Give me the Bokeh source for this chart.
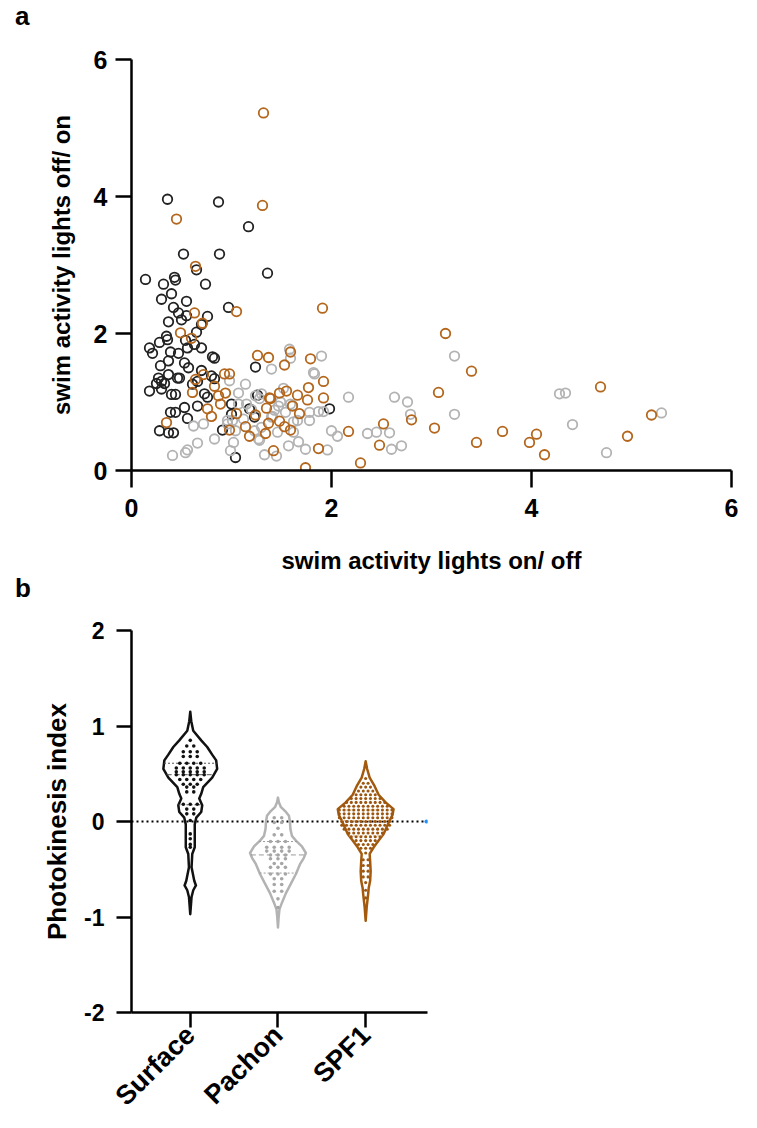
import numpy as np
from bokeh.plotting import figure
from bokeh.layouts import column
from bokeh.models import Range1d, FixedTicker, Div
from bokeh.embed import file_html
from bokeh.resources import INLINE

FONT = "Liberation Sans"

# ---------------- Panel a : swim activity ratios ----------------
surface_on_off = [0.36,0.87,1.17,0.52,0.88,0.65,1.36,0.14,0.43,0.44,0.32,0.74,0.40,0.30,0.55,0.42,0.97,0.47,0.55,0.76,
                  0.50,0.37,0.70,0.65,0.35,0.36,0.54,0.56,0.63,0.70,0.28,0.18,0.21,0.39,0.47,0.81,0.83,0.37,0.53,0.29,
                  1.24,0.57,0.70,0.46,0.48,0.27,0.30,0.37,0.61,0.80,0.83,0.66,0.18,0.25,0.33,0.30,0.40,0.44,0.73,0.76,
                  1.00,0.66,0.53,1.26,1.18,1.23,1.00,1.98,0.39,0.44,0.56,0.28,0.37,0.42,0.91,1.04]
surface_off_on = [3.96,3.92,3.56,3.16,3.16,2.93,2.88,2.79,2.82,2.78,2.72,2.72,2.58,2.50,2.47,2.38,2.38,2.30,2.26,2.25,
                  2.20,2.17,2.13,2.02,1.96,1.91,1.90,1.79,1.84,1.79,1.87,1.79,1.71,1.73,1.71,1.66,1.64,1.60,1.57,1.53,
                  1.51,1.50,1.46,1.35,1.35,1.35,1.30,1.40,1.26,1.38,1.34,1.30,1.16,1.27,1.27,1.19,1.11,1.11,1.12,1.07,
                  0.97,0.94,0.92,1.10,0.90,0.78,0.82,0.90,0.85,0.85,0.76,0.58,0.55,0.55,0.59,0.19]

pachon_on_off = [3.23,3.23,4.28,4.34,4.41,4.75,5.30,2.17,2.63,2.76,2.79,2.36,2.45,2.58,2.60,2.70,2.00,2.06,1.96,1.90,
                 1.58,1.59,1.40,0.98,1.14,1.07,1.24,1.30,1.52,1.82,1.83,1.87,1.92,1.61,1.47,1.78,1.20,0.62,0.72,0.83,
                 0.66,0.56,0.54,0.41,0.96,1.12,1.28,1.02,0.99,1.46,1.41,1.62,1.57,1.67,1.74,1.33,1.45,1.07,1.15,1.28,
                 1.43,1.49,1.54,1.59,1.78,1.66,1.40,1.30,1.23,1.27,1.62,1.04,1.01,0.96]
pachon_off_on = [1.67,0.82,1.12,1.13,0.67,0.26,0.84,1.07,1.07,1.00,0.82,0.54,0.56,0.55,0.31,0.36,0.58,0.50,0.30,1.67,
                 1.77,1.64,1.48,1.31,1.26,1.13,1.09,1.12,1.20,1.43,1.41,0.86,0.86,0.95,0.94,0.85,0.89,0.65,0.68,0.46,
                 0.40,0.30,0.26,0.22,0.73,0.75,0.44,0.41,0.29,0.56,0.79,0.71,0.36,0.42,0.31,0.23,0.21,0.97,0.97,1.05,
                 0.88,1.00,0.85,0.97,0.73,0.73,0.78,0.63,0.58,0.46,0.56,0.58,0.73,0.68]

spf1_on_off = [3.14,3.40,3.07,3.03,3.45,3.71,3.98,4.05,4.13,4.69,4.96,5.20,2.80,2.52,2.48,2.29,2.17,1.91,1.92,1.92,
               1.32,1.31,0.45,0.64,1.05,0.63,0.71,0.49,0.60,1.26,1.37,1.59,1.53,1.79,0.72,0.64,0.93,0.98,0.83,0.61,
               0.87,0.94,0.89,1.38,1.48,1.55,1.66,1.77,1.35,1.61,1.76,1.68,1.24,1.05,0.76,0.80,0.35,0.98,1.14,1.18,
               1.34,1.37,1.48,1.53,1.59,1.42,1.87,1.74,1.39]
spf1_off_on = [2.00,1.45,1.14,0.62,0.41,0.57,0.41,0.53,0.23,1.22,0.50,0.81,0.74,0.68,0.37,0.11,0.57,2.37,1.30,1.06,
               5.22,3.87,3.67,2.98,2.32,2.30,2.15,2.01,1.93,1.68,1.65,1.73,1.54,1.63,1.40,1.33,1.41,1.41,1.23,1.14,
               1.09,1.13,0.97,1.06,1.13,1.16,1.10,1.21,0.91,0.94,1.03,0.83,0.81,0.83,0.90,0.79,0.70,0.59,0.64,0.50,
               0.54,0.69,0.72,0.64,0.59,0.29,0.32,0.04,1.05]

# ---------------- Panel b : photokinesis index ----------------
categories = ["Surface", "Pachon", "SPF1"]

surface_pki = ([0.85] + [0.79]*2 + [0.73]*3 + [0.68]*3 + [0.61]*4 + [0.56]*5 + [0.52]*5 + [0.49]*5 +
               [0.44]*4 + [0.39]*3 + [0.36]*2 + [0.31]*2 + [0.18]*3 + [0.13]*2 + [0.08]*2 + [0.01] +
               [-0.13] + [-0.18] + [-0.24] + [-0.27])
pachon_pki = ([0.04]*2 + [-0.01]*2 + [-0.07] + [-0.14]*2 + [-0.21]*3 + [-0.27]*4 + [-0.31]*4 + [-0.35]*3 +
              [-0.39]*3 + [-0.44]*2 + [-0.48]*3 + [-0.55]*3 + [-0.60]*2 + [-0.66]*2 + [-0.73]*2 + [-0.81] + [-0.90])
spf1_pki = ([0.45] + [0.40]*2 + [0.36]*3 + [0.32]*4 + [0.28]*5 + [0.24]*7 + [0.20]*9 + [0.16]*10 +
            [0.12]*12 + [0.08]*12 + [0.04]*12 + [0.00]*11 + [-0.04]*11 + [-0.08]*10 + [-0.12]*8 + [-0.16]*7 +
            [-0.20]*5 + [-0.24]*4 + [-0.28]*3 + [-0.33] + [-0.40]*2 + [-0.46]*2 + [-0.52]*2 + [-0.58]*2 +
            [-0.64] + [-0.72] + [-0.80])

# violin outlines: level -> half width (px, at 88 px per category)
surface_vlevels = [1.15, 1.05, 0.95, 0.85, 0.78, 0.70, 0.64, 0.55, 0.46, 0.36, 0.29, 0.24, 0.17, 0.10, 0.04,
                   -0.03, -0.27, -0.34, -0.48, -0.62, -0.67, -0.72, -0.79, -0.97]
surface_vhalf = [0, 1, 3, 11, 17, 22, 26, 27, 22, 13, 11, 9, 12, 11, 6, 4.5, 4.5, 2, 1.3, 4, 5.7, 3, 1.3, 0]
pachon_vlevels = [0.25, 0.20, 0.15, 0.10, 0.06, 0.00, -0.08, -0.15, -0.20, -0.26, -0.33, -0.38, -0.45, -0.55,
                  -0.65, -0.75, -0.85, -0.92, -1.00, -1.11]
pachon_vhalf = [0, 1, 3, 8, 11, 12, 12.5, 14, 18, 24, 28, 26, 22, 18, 13, 8, 4, 1.5, 0.7, 0]
spf1_vlevels = [0.63, 0.55, 0.46, 0.37, 0.28, 0.20, 0.13, 0.07, 0.01, -0.06, -0.13, -0.20, -0.27, -0.34,
                -0.42, -0.52, -0.62, -0.70, -0.76, -0.90, -1.04]
spf1_vhalf = [0, 1.5, 4, 9, 13, 20, 28, 27, 24, 21, 18, 13, 8, 4, 4.5, 5, 4.5, 3, 2.5, 1, 0]

# quartile lines [upper quartile, median, lower quartile]
surface_quart = [0.61, 0.49, 0.175]
pachon_quart = [-0.21, -0.35, -0.54]
spf1_quart = [0.12, 0.01, -0.15]

BLACK = "#222222"
GREY = "#b3b3b3"
BROWN = "#b3661c"
BROWN_DK = "#a35a0e"


def style_axes(p, label_size):
    for ax in (p.xaxis[0], p.yaxis[0]):
        ax.axis_line_width = 2.5
        ax.axis_line_color = "black"
        ax.major_tick_line_width = 2.5
        ax.major_tick_line_color = "black"
        ax.major_tick_in = 0
        ax.minor_tick_line_color = None
        ax.major_label_text_font = FONT
        ax.major_label_text_font_style = "bold"
        ax.major_label_text_font_size = label_size
        ax.major_label_text_color = "black"
        ax.axis_label_text_font = FONT
        ax.axis_label_text_font_style = "bold"
        ax.axis_label_text_font_size = "24px"
        ax.axis_label_text_color = "black"
    p.xgrid.visible = False
    p.ygrid.visible = False
    p.outline_line_color = None


def panel_letter(letter, height):
    html = ('<div style="font-family:\'Liberation Sans\';font-weight:bold;font-size:26px;'
            'line-height:%dpx;padding-left:15px;color:black;margin:0;">%s</div>' % (height, letter))
    return Div(text=html, width=60, height=height, margin=0)


# ---------- figure a ----------
div_a = panel_letter("a", 32)
pa = figure(width=757, height=545, x_range=Range1d(0, 6), y_range=Range1d(0, 6),
            output_backend="svg", toolbar_location=None,
            min_border_left=131, min_border_right=9, min_border_top=27, min_border_bottom=107)
style_axes(pa, "25px")
pa.xaxis.ticker = FixedTicker(ticks=[0, 2, 4, 6])
pa.yaxis.ticker = FixedTicker(ticks=[0, 2, 4, 6])
pa.xaxis.major_tick_out = 17
pa.yaxis.major_tick_out = 16
pa.xaxis.major_label_standoff = 11
pa.yaxis.major_label_standoff = 8
pa.xaxis.axis_label = "swim activity lights on/ off"
pa.yaxis.axis_label = "swim activity lights off/ on"
pa.xaxis.axis_label_standoff = 27
pa.yaxis.axis_label_standoff = 16

for xs, ys, col in ((surface_on_off, surface_off_on, BLACK),
                    (pachon_on_off, pachon_off_on, GREY),
                    (spf1_on_off, spf1_off_on, BROWN)):
    pa.scatter(xs, ys, marker="circle", size=9.5, fill_color=None, line_color=col, line_width=1.8)

# ---------- figure b ----------
div_b = panel_letter("b", 22)
X0, X1 = 0.33, 3.705
pb = figure(width=453, height=529, x_range=Range1d(X0, X1), y_range=Range1d(-2, 2),
            output_backend="svg", toolbar_location=None,
            min_border_left=130, min_border_right=26, min_border_top=31, min_border_bottom=116)
style_axes(pb, "23px")
pb.xaxis.ticker = FixedTicker(ticks=[1, 2, 3])
pb.xaxis.major_label_overrides = {1: categories[0], 2: categories[1], 3: categories[2]}
pb.xaxis.major_label_orientation = np.pi / 4
pb.xaxis.major_label_text_font_size = "27px"
pb.xaxis.major_tick_out = 15
pb.xaxis.major_label_standoff = 3
pb.yaxis.ticker = FixedTicker(ticks=[-2, -1, 0, 1, 2])
pb.yaxis.major_label_overrides = {-2: "-2", -1: "-1", 0: "0", 1: "1", 2: "2"}
pb.yaxis.major_tick_out = 15
pb.yaxis.major_label_standoff = 12
pb.yaxis.axis_label = "Photokinesis index"
pb.yaxis.axis_label_text_font_size = "26px"
pb.yaxis.axis_label_standoff = 9

# zero line
pb.line([X0, X1], [0, 0], line_color="black", line_width=2, line_dash="2 3")

PX_PER_CAT = 88.0
groups = [
    (1, surface_pki, surface_vlevels, surface_vhalf, surface_quart, "#111111", "#111111", "#555555", 7.0, 3.6),
    (2, pachon_pki, pachon_vlevels, pachon_vhalf, pachon_quart, GREY, "#a6a6a6", "#9a9a9a", 7.5, 3.6),
    (3, spf1_pki, spf1_vlevels, spf1_vhalf, spf1_quart, BROWN_DK, "#9c5610", "#e2c08e", 4.8, 3.1),
]
for cx, vals, lev, half, quart, lcol, dcol, qcol, spacing_px, dsize in groups:
    lev = np.asarray(lev, dtype=float)
    hw = np.asarray(half, dtype=float) / PX_PER_CAT
    xs = np.concatenate([cx + hw, (cx - hw)[::-1]])
    ys = np.concatenate([lev, lev[::-1]])
    pb.patch(xs, ys, fill_alpha=0, line_color=lcol, line_width=2.5, line_join="round")
    for k, q in enumerate(quart):
        w = np.interp(q, lev[::-1], hw[::-1])
        dash = "5 3" if k == 1 else "2 2"
        pb.line([cx - w, cx + w], [q, q], line_color=qcol, line_width=1, line_dash=dash)
    vals = np.asarray(vals, dtype=float)
    dx, dy = [], []
    for v in np.unique(vals):
        n = int(np.sum(vals == v))
        offs = (np.arange(n) - (n - 1) / 2.0) * spacing_px / PX_PER_CAT
        dx.extend(cx + offs)
        dy.extend([v] * n)
    pb.scatter(dx, dy, marker="circle", size=dsize, fill_color=dcol, line_color=None)

# small blue marker at the end of the zero line
pb.scatter([3.693], [0], marker="circle", size=4, fill_color="#1e90ff", line_color=None)

layout = column(div_a, pa, div_b, pb, spacing=0)
open("out.html", "w").write(file_html(layout, INLINE))
